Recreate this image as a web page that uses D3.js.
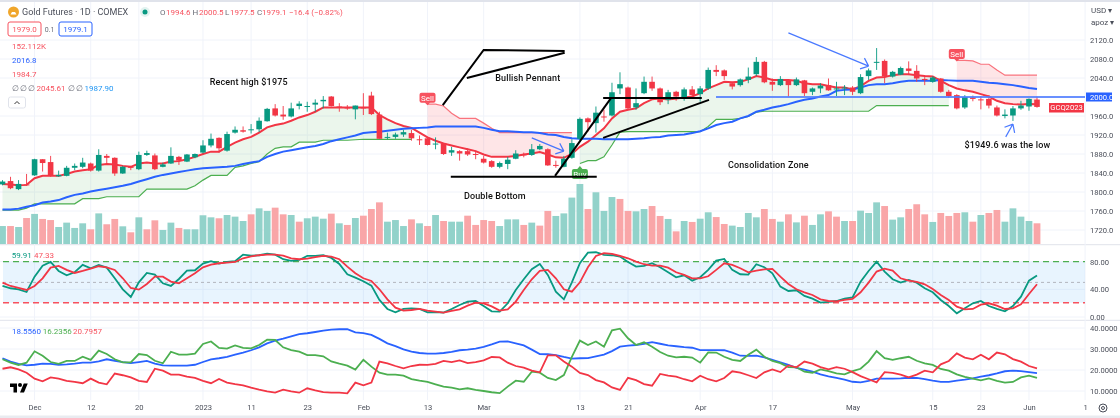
<!DOCTYPE html>
<html>
<head>
<meta charset="utf-8">
<script src="https://cdnjs.cloudflare.com/ajax/libs/d3/7.8.5/d3.min.js"></script>
<style>
  html, body { margin: 0; padding: 0; background: #fff; }
  svg { display: block; filter: blur(0.3px); }
  text { font-family: Roboto, sans-serif; }
  .axis text { font-size: 7.6px; fill: #4a4e59; }
  .axis path { display: none; }
</style>
</head>
<body>
<svg id="chart" width="1120" height="418"></svg>
<script>
const _ = null;

// candles, one per trading day
const opens = [
  1816,1823,1806,1816,1835,1869,1863,1833,1834,1851,
  1853,1860,1845,1876,1872,1839,1853,1848,1878,1877,
  1853,1860,1874,1864,1873,1883,1898,1914,1887,1925,
  1930,1931,1932,1949,1976,1963,1959,1981,1980,1984,
  1991,2001,1980,1978,1974,1978,2003,1963,1914,1916,
  1921,1924,1911,1913,1900,1902,1883,1886,1886,1880,
  1870,1865,1853,1859,1870,1880,1878,1890,1890,1857,
  1853,1872,1912,1955,1945,1959,1961,2018,2020,1978,
  2008,2032,2018,1994,2011,1999,2016,2006,2018,2057,
  2056,2029,2025,2036,2048,2074,2032,2025,2036,2025,
  2035,2011,2018,2025,2017,2019,2020,2008,2044,2072,
  2076,2043,2047,2060,2055,2038,2032,2039,2011,2004,
  1978,1999,1995,1996,1978,1960,1961,1976,1980,1994.6];
const highs = [
  1825,1832,1825,1838,1870,1869,1876,1845,1855,1860,
  1872,1862,1890,1880,1873,1855,1855,1885,1887,1881,
  1862,1894,1876,1880,1881,1909,1923,1915,1927,1938,
  1938,1943,1957,1977,1985,1981,1988,1991,1990,1995,
  2002,2002,1987,1983,1982,2008,2011,1969,1925,1925,
  1931,1931,1919,1914,1915,1902,1895,1888,1892,1887,
  1876,1867,1864,1874,1888,1883,1901,1901,1892,1866,
  1876,1911,1957,1957,1980,1973,2030,2052,2022,2018,
  2043,2043,2020,2015,2013,2020,2023,2023,2062,2067,
  2058,2032,2039,2062,2084,2076,2039,2044,2037,2041,
  2036,2020,2029,2039,2032,2025,2023,2048,2060,2103,
  2079,2055,2064,2075,2067,2046,2044,2040,2015,2006,
  2004,2003,2002,2004,1982,1974,1981,1992,1997,2000.5];
const lows = [
  1814,1806,1804,1813,1834,1843,1832,1832,1833,1846,
  1850,1843,1843,1857,1834,1838,1846,1846,1876,1846,
  1852,1859,1857,1863,1871,1881,1894,1883,1885,1923,
  1925,1923,1926,1948,1959,1952,1957,1974,1969,1969,
  1976,1980,1969,1973,1953,1962,1962,1912,1911,1912,
  1916,1908,1899,1898,1890,1878,1876,1866,1876,1869,
  1860,1851,1850,1848,1869,1873,1876,1888,1855,1851,
  1852,1870,1909,1927,1925,1948,1959,2006,1974,1973,
  2006,2013,1983,1985,1992,1992,1997,1990,2015,2044,
  2036,2016,2022,2029,2044,2029,2013,2023,2001,2023,
  2002,2004,2008,2013,2002,2004,2004,2006,2036,2057,
  2029,2041,2046,2046,2032,2025,2030,2009,1998,1974,
  1975,1991,1974,1976,1959,1955,1949.6,1973,1971,1977.5];
const closes = [
  1822,1808,1817,1814,1869,1861,1834,1836,1851,1855,
  1862,1845,1878,1872,1839,1853,1851,1878,1882,1848,
  1858,1876,1866,1879,1880,1898,1912,1892,1922,1931,
  1927,1932,1950,1975,1961,1959,1976,1986,1981,1988,
  1994,1981,1978,1977,1982,1977,1964,1912,1916,1921,
  1926,1913,1909,1899,1902,1880,1888,1881,1879,1879,
  1862,1853,1861,1868,1881,1877,1890,1897,1856,1855,
  1870,1903,1954,1947,1967,1957,2010,2027,1976,1987,
  2032,2018,1989,2010,2001,2016,2004,2018,2057,2053,
  2044,2022,2037,2043,2074,2031,2026,2038,2025,2037,
  2008,2018,2024,2014,2018,2020,2011,2042,2056,2074,
  2043,2053,2061,2055,2039,2036,2041,2011,2002,1976,
  2000,1996,1994,1982,1961,1963,1976,1982,1996,1979.1];

// price overlays
const ema = [
  1817,1816,1814,1815,1829,1834,1834,1834,1838,1843,
  1846,1848,1857,1859,1858,1855,1853,1860,1862,1860,
  1860,1864,1865,1869,1874,1880,1885,1885,1895,1904,
  1911,1916,1925,1936,1941,1944,1950,1957,1962,1969,
  1978,1978,1978,1978,1978,1978,1978,1962,1953,1945,
  1939,1935,1925,1915,1908,1902,1898,1894,1890,1886,
  1879,1874,1874,1874,1876,1879,1881,1884,1879,1873,
  1872,1880,1895,1906,1920,1934,1955,1969,1973,1976,
  1987,1995,1997,1995,1997,1999,2001,2008,2018,2025,
  2032,2031,2032,2037,2044,2041,2036,2036,2036,2034,
  2029,2027,2027,2023,2020,2020,2016,2023,2034,2041,
  2042,2046,2048,2048,2046,2044,2043,2034,2025,2018,
  2014,2011,2006,2001,1992,1987,1985,1984,1985,1984.7];
const ma = [
  1763,1763,1765,1769,1772,1778,1780,1783,1789,1794,
  1797,1801,1804,1807,1810,1813,1817,1822,1827,1832,
  1836,1839,1842,1845,1848,1850,1851,1852,1853,1855,
  1859,1862,1865,1874,1880,1885,1888,1891,1894,1897,
  1901,1907,1911,1915,1919,1924,1926,1927,1929,1931,
  1933,1934,1935,1936,1938,1938,1938,1938,1938,1938,
  1935,1931,1928,1928,1927,1926,1926,1924,1921,1920,
  1916,1913,1912,1912,1912,1911,1911,1911,1911,1912,
  1913,1915,1916,1919,1920,1921,1924,1928,1934,1941,
  1945,1948,1955,1960,1969,1973,1978,1981,1985,1990,
  1994,1997,2001,2004,2013,2015,2016,2020,2025,2027,
  2027,2029,2032,2034,2034,2034,2034,2036,2035,2034,
  2034,2034,2032,2030,2029,2027,2025,2022,2019,2016.8];
const stopUp = [
  1762,1762,1762,1766,1775,1775,1775,1775,1775,1775,
  1786,1786,1786,1790,1790,1790,1790,1790,1806,1806,
  1806,1806,1806,1806,1813,1825,1835,1835,1835,1852,
  1855,1860,1864,1880,1892,1895,1895,1905,1905,1905,
  1909,1909,1909,1909,1910,1911,1911,1911,1911,1911,
  1911,1911,_,_,_,_,_,_,_,_,
  _,_,_,_,_,_,_,_,_,_,
  _,_,1860,1866,1866,1874,1899,1926,1927,1927,
  1927,1927,1927,1927,1927,1927,1927,1927,1938,1953,
  1953,1953,1955,1959,1968,1970,1970,1970,1970,1970,
  1970,1970,1970,1970,1970,1970,1970,1970,1970,1982,
  1982,1982,1982,1982,1982,1982,1982,1982,1982,_,
  _,_,_,_,_,_,_,_,_,_];
const stopDown = [
  _,_,_,_,_,_,_,_,_,_,
  _,_,_,_,_,_,_,_,_,_,
  _,_,_,_,_,_,_,_,_,_,
  _,_,_,_,_,_,_,_,_,_,
  _,_,_,_,_,_,_,_,_,_,
  _,_,_,1985,1985,1981,1966,1955,1955,1955,
  1945,1934,1925,1925,1925,1925,1925,1925,1925,1925,
  1925,1925,_,_,_,_,_,_,_,_,
  _,_,_,_,_,_,_,_,_,_,
  _,_,_,_,_,_,_,_,_,_,
  _,_,_,_,_,_,_,_,_,_,
  _,_,_,_,_,_,_,_,_,2077,
  2077,2076,2069,2069,2057,2046,2046,2046,2046,2046];

// volume in thousands, and the days drawn as down bars
const volume = [
  132,132,125,191,221,184,176,125,157,118,
  152,108,225,145,184,130,86,196,108,174,
  103,157,118,108,108,211,196,189,213,201,
  169,218,262,243,267,218,213,164,189,201,
  186,223,152,140,191,208,257,306,164,176,
  132,181,152,132,213,169,164,164,208,140,
  176,169,132,181,181,140,157,135,243,206,
  225,341,441,257,380,243,345,331,243,240,
  257,279,206,184,93,169,162,186,233,198,
  147,135,125,228,196,257,184,164,218,159,
  208,140,218,240,201,169,169,245,228,306,
  279,179,196,257,292,218,162,228,206,228,
  233,164,213,228,250,164,262,201,169,152.112];
const volumeDownDays = [1,3,5,6,11,13,14,16,18,19,22,27,31,34,35,37,41,43,45,46,47,
  51,53,55,58,59,60,61,65,67,68,73,77,78,81,82,84,86,89,90,
  95,96,98,100,103,104,106,110,113,114,115,117,118,119,121,123,124,129];

// stochastic
const stochK = [
  44.8,41.5,40.0,36.1,58.3,74.2,79.5,66.5,60.2,64.6,
  75.2,70.4,75.2,71.3,55.9,40.0,28.9,50.1,63.6,61.2,
  48.7,44.8,54.9,67.0,67.5,77.1,80.5,77.1,79.5,80.5,
  90.1,88.7,89.2,91.6,90.1,83.4,81.0,82.4,88.2,88.2,
  89.2,85.3,76.6,61.7,56.9,51.6,45.3,24.6,11.6,6.7,
  11.6,12.5,11.6,6.7,7.2,6.3,11.6,17.4,22.2,23.1,
  15.9,8.2,7.7,19.8,39.0,54.5,68.9,76.6,60.7,36.6,
  25.5,50.1,77.6,93.0,93.5,89.7,89.2,87.2,79.5,72.8,
  73.7,77.6,71.8,64.6,57.4,60.2,52.5,57.4,68.0,81.5,
  83.9,68.0,61.7,61.2,76.2,71.8,63.1,43.9,37.6,38.6,
  30.4,26.5,20.7,21.7,23.1,26.5,28.4,51.1,66.5,80.0,
  65.6,54.5,49.6,53.5,49.6,41.5,35.7,24.6,15.9,5.3,
  12.5,19.8,23.1,15.9,11.6,8.2,15.9,29.4,52.5,59.91];
const stochD = [
  49.6,44.8,41.9,39.0,44.8,55.9,71.3,73.7,68.0,63.6,
  66.5,69.9,73.3,71.8,68.0,55.9,41.9,39.5,47.7,58.3,
  58.3,51.1,48.7,55.9,63.1,71.8,75.7,77.6,78.6,79.5,
  84.8,87.7,89.2,90.1,90.1,88.7,84.8,83.4,84.3,86.3,
  88.2,87.2,83.4,72.8,63.1,55.9,52.1,40.0,25.5,13.5,
  9.2,10.1,11.6,9.2,7.7,6.3,8.7,11.1,16.4,20.7,
  19.8,15.4,9.2,11.1,22.2,39.0,54.5,66.5,68.0,55.9,
  40.0,36.6,50.1,71.8,88.2,92.1,91.1,88.2,84.8,80.0,
  76.2,74.2,74.2,71.3,64.6,60.7,55.9,55.9,58.8,68.0,
  77.6,75.2,70.4,64.6,67.0,68.9,69.4,58.3,47.7,40.0,
  35.7,31.8,25.5,23.1,22.7,24.6,26.0,35.7,49.6,65.6,
  69.9,67.0,55.9,52.5,50.6,47.2,40.5,31.8,24.6,14.9,
  11.1,11.6,17.8,19.8,16.4,11.6,12.5,18.3,33.3,47.33];

// directional movement
const adx = [
  25.6,24.0,22.9,22.2,22.5,23.0,22.9,22.5,22.7,23.0,
  23.5,23.5,24.1,25.1,24.4,23.8,23.3,23.8,24.3,23.0,
  22.2,22.1,22.1,22.1,22.5,23.8,25.1,25.6,26.3,27.3,
  28.3,29.4,30.8,32.7,34.0,34.9,36.0,37.1,37.5,38.1,
  38.7,39.2,39.4,39.5,37.9,37.6,36.7,34.8,32.7,31.4,
  29.8,28.7,28.1,27.8,27.8,28.1,28.6,29.4,29.7,30.2,
  31.0,32.2,33.5,33.6,32.7,31.7,29.7,27.6,27.5,27.1,
  26.2,25.4,25.6,25.7,26.5,27.3,29.0,31.1,31.6,31.9,
  32.5,33.3,32.5,31.7,31.3,30.9,30.6,29.5,29.5,29.5,
  29.4,28.3,26.8,26.7,26.8,26.0,24.8,23.6,22.4,21.0,
  20.2,19.2,17.9,17.0,16.2,15.4,14.4,14.1,14.8,15.9,
  15.9,15.9,16.0,16.3,16.2,15.7,14.9,14.3,14.3,14.9,
  15.4,16.0,16.8,17.5,18.4,19.4,19.7,19.5,19.0,18.556];
const plusDI = [
  25.1,23.5,22.4,23.5,28.9,26.8,23.8,22.9,24.3,24.3,
  26.3,24.8,29.2,27.6,25.1,23.6,23.6,27.6,27.1,24.4,
  23.2,28.7,27.3,27.3,27.8,32.4,33.6,30.5,30.2,31.7,
  30.5,30.3,31.9,34.4,34.3,30.8,29.5,28.7,27.1,27.1,
  26.5,24.1,23.0,22.1,20.2,24.9,21.6,18.7,17.8,17.8,
  17.3,15.7,14.9,14.3,13.2,12.1,11.6,10.8,11.3,10.5,
  10.0,9.4,9.0,12.1,14.9,14.4,19.2,18.7,16.2,15.2,
  17.6,26.3,34.0,31.9,33.6,31.1,38.9,39.7,35.1,31.9,
  33.2,31.1,28.6,26.8,26.0,26.3,25.9,23.5,28.4,28.3,
  26.3,24.8,24.3,27.3,29.7,26.3,24.3,23.3,21.4,21.3,
  19.2,18.7,20.3,19.5,18.4,17.9,19.5,20.6,24.0,29.0,
  25.6,24.8,25.6,26.3,24.4,23.2,22.4,20.5,19.7,17.9,
  16.7,15.9,15.1,16.0,14.8,14.0,14.3,16.5,17.3,16.2356];
const minusDI = [
  20.6,21.3,20.3,18.7,15.9,14.6,16.5,15.9,14.8,14.3,
  13.7,15.9,14.0,13.2,18.3,17.5,16.5,14.8,14.3,20.6,
  19.7,17.8,17.8,16.8,16.2,14.8,13.7,15.7,14.0,13.3,
  12.7,11.6,10.6,9.8,9.2,10.6,9.8,9.2,11.3,10.3,
  9.5,9.2,9.2,8.9,14.0,12.7,14.0,24.0,23.2,21.9,
  20.8,21.9,22.5,22.4,22.9,24.3,23.8,24.6,23.3,23.8,
  24.6,26.2,26.0,23.5,21.9,21.1,19.7,18.9,27.0,27.0,
  24.1,21.6,18.6,17.6,15.2,14.1,11.7,10.5,16.3,15.2,
  13.3,12.5,18.1,17.3,16.8,15.6,14.6,17.3,15.6,14.6,
  16.2,19.4,18.7,17.5,16.2,18.9,20.3,19.0,22.2,21.3,
  24.0,23.0,21.4,20.3,21.4,20.6,19.0,17.1,15.6,14.1,
  19.0,18.6,17.8,16.5,17.8,19.7,18.9,22.7,24.3,27.9,
  25.9,25.1,27.3,25.1,28.3,27.5,25.2,24.0,21.9,20.7957];

// axes
const priceTicks = [2120,2080,2040,1960,1920,1880,1840,1800,1760,1720];
const stochTicks = [80,40,0];
const dmiTicks = [40,30,20,10];
const timeTickDays = [4,11,17,25,31,38,45,53,60,72,78,87,96,106,116,122,128,135];
const timeTickLabels = ['Dec','12','20','2023','11','23','Feb','13','Mar','13','21','Apr','17','May','15','23','Jun','1'];

// drawn on the chart, as [day, price]
const blackLines = [
  [[54.9,1983],[60,2099],[70.1,2097]],
  [[57.9,2040],[70.1,2093]],
  [[55.9,1832],[74.1,1832]],
  [[68.9,1834],[75.9,1998]],
  [[74.9,1998],[87.2,1998]],
  [[74.9,1914],[88.1,1994]]];
const blueArrows = [
  [[66,1914],[70,1886]],
  [[98,2135],[108,2065]],
  [[125.1,1916],[126,1943]]];
const notes = [
  ['Recent high $1975',30.7,2025],
  ['Bullish Pennant',65.5,2034],
  ['Double Bottom',61.4,1785],
  ['Consolidation Zone',95.5,1851],
  ['$1949.6 was the low',125.3,1893]];

const green = '#089981', red = '#f23645', blue = '#2962ff', stopGreen = '#4caf50', stopRed = '#f7525f';
const days = d3.range(closes.length);
const svg = d3.select('#chart');
const chartRight = 1085;

const x = d3.scaleLinear().domain([0, 129]).range([2.5, 1037]);
const yPrice = d3.scaleLinear().domain([1720, 2120]).range([230, 40]);
const yVolume = d3.scaleLinear().domain([0, 100]).range([244, 230.39]);
const yStoch = d3.scaleLinear().domain([0, 80]).range([317, 261.6]);
const yDmi = d3.scaleLinear().domain([10, 40]).range([391, 328]);

// frame and grid
svg.append('rect').attr('width', 1120).attr('height', 2).attr('fill', '#e0e3eb');
svg.append('rect').attr('y', 415.5).attr('width', 1120).attr('height', 2.5).attr('fill', '#e9ebf0');
[244.7, 320.3].forEach(py => svg.append('line').attr('x1', 0).attr('x2', 1120).attr('y1', py).attr('y2', py).attr('stroke', '#e0e3eb'));

const grid = svg.append('g').attr('stroke', '#f0f3fa');
timeTickDays.forEach(d => grid.append('line').attr('x1', x(d)).attr('x2', x(d)).attr('y1', 2).attr('y2', 400));
[[priceTicks, yPrice], [stochTicks, yStoch], [dmiTicks, yDmi]].forEach(([ticks, scale]) => {
  ticks.forEach(t => grid.append('line').attr('x1', 0).attr('x2', chartRight).attr('y1', scale(t)).attr('y2', scale(t)));
});

// volume
const downSet = new Set(volumeDownDays);
svg.append('g').selectAll('rect').data(days).enter().append('rect')
  .attr('x', d => x(d) - 3.4)
  .attr('width', 6.8)
  .attr('y', d => yVolume(volume[d]))
  .attr('height', d => yVolume(0) - yVolume(volume[d]))
  .attr('fill', d => downSet.has(d) ? '#f9a6a8' : '#92d2ca');

// fills between the stop and the ema
const bandBetween = stops => d3.area()
  .defined(d => stops[d] !== null)
  .x(d => x(d))
  .y0(d => yPrice(stops[d]))
  .y1(d => yPrice(ema[d]));
svg.append('path').attr('d', bandBetween(stopUp)(days)).attr('fill', stopGreen).attr('opacity', 0.11);
svg.append('path').attr('d', bandBetween(stopDown)(days)).attr('fill', stopRed).attr('opacity', 0.15);

const priceLine = values => d3.line().defined(d => values[d] !== null).x(d => x(d)).y(d => yPrice(values[d]));
svg.append('path').attr('d', priceLine(stopUp)(days)).attr('fill', 'none').attr('stroke', stopGreen).attr('stroke-width', 1.2);
svg.append('path').attr('d', priceLine(stopDown)(days)).attr('fill', 'none').attr('stroke', stopRed).attr('stroke-opacity', 0.8).attr('stroke-width', 1.2);
svg.append('path').attr('d', priceLine(ema)(days)).attr('fill', 'none').attr('stroke', red).attr('stroke-width', 2);
svg.append('path').attr('d', priceLine(ma)(days)).attr('fill', 'none').attr('stroke', blue).attr('stroke-width', 2);

// candles
const candle = svg.append('g').selectAll('g').data(days).enter().append('g');
const candleColor = d => closes[d] >= opens[d] ? green : red;
candle.append('line')
  .attr('x1', d => x(d)).attr('x2', d => x(d))
  .attr('y1', d => yPrice(highs[d])).attr('y2', d => yPrice(lows[d]))
  .attr('stroke', candleColor).attr('stroke-width', 0.9);
candle.append('rect')
  .attr('x', d => x(d) - 2.8)
  .attr('width', 5.6)
  .attr('y', d => yPrice(Math.max(opens[d], closes[d])))
  .attr('height', d => Math.max(1, Math.abs(yPrice(opens[d]) - yPrice(closes[d]))))
  .attr('fill', candleColor);

// sell / buy tags
const tag = (day, stop, label, color, below) => {
  const cx = x(day), tip = yPrice(stop);
  const cy = below ? tip + 10.5 : tip - 6.4;
  svg.append('path')
    .attr('d', below
      ? `M${cx - 3},${cy - 4.5}L${cx},${cy - 8}L${cx + 3},${cy - 4.5}Z`
      : `M${cx - 3},${cy + 4.5}L${cx},${cy + 7.5}L${cx + 3},${cy + 4.5}Z`)
    .attr('fill', color);
  svg.append('rect').attr('x', cx - 8).attr('y', cy - 5).attr('width', 16).attr('height', 10).attr('rx', 2).attr('fill', color);
  svg.append('text').attr('x', cx).attr('y', cy + 2.8).attr('text-anchor', 'middle')
    .attr('font-size', 8).attr('fill', '#fff').text(label);
};
tag(53, stopDown[53], 'Sell', stopRed, false);
tag(119, stopDown[119], 'Sell', stopRed, false);
tag(72, stopUp[72], 'Buy', stopGreen, true);

// horizontal line at 2000
svg.append('line').attr('x1', 716).attr('x2', chartRight)
  .attr('y1', yPrice(2000)).attr('y2', yPrice(2000))
  .attr('stroke', '#4f7dff').attr('stroke-opacity', 0.85).attr('stroke-width', 2);

// hand-drawn lines
const drawn = d3.line().x(p => x(p[0])).y(p => yPrice(p[1]));
blackLines.forEach(pts => svg.append('path').attr('d', drawn(pts)).attr('fill', 'none').attr('stroke', '#000').attr('stroke-width', 2));
blueArrows.forEach(pts => {
  const [x0, y0, x1, y1] = [x(pts[0][0]), yPrice(pts[0][1]), x(pts[1][0]), yPrice(pts[1][1])];
  const a = Math.atan2(y1 - y0, x1 - x0);
  const head = [a - 0.7, a + 0.7].map(h => [x1 - 9 * Math.cos(h), y1 - 9 * Math.sin(h)]);
  const path = d3.path();
  path.moveTo(x0, y0); path.lineTo(x1, y1);
  head.forEach(h => { path.moveTo(h[0], h[1]); path.lineTo(x1, y1); });
  svg.append('path').attr('d', path.toString()).attr('fill', 'none').attr('stroke', blue).attr('stroke-opacity', 0.85).attr('stroke-width', 1.2);
});
notes.forEach(([label, day, price]) => {
  svg.append('text').attr('x', x(day)).attr('y', yPrice(price)).attr('text-anchor', 'middle')
    .attr('font-size', 9).attr('font-weight', 500).attr('letter-spacing', 0.15).attr('fill', '#111').text(label);
});

// stochastic pane
svg.append('rect').attr('x', 3).attr('width', chartRight - 3)
  .attr('y', yStoch(80)).attr('height', yStoch(20.5) - yStoch(80))
  .attr('fill', '#2196f3').attr('opacity', 0.1);
[[80, stopGreen, '6,4', 1.3], [50, '#b2b5be', '3,3', 1], [20.5, stopRed, '6,4', 1.5]].forEach(([v, color, dash, w]) => {
  svg.append('line').attr('x1', 3).attr('x2', chartRight)
    .attr('y1', yStoch(v)).attr('y2', yStoch(v))
    .attr('stroke', color).attr('stroke-dasharray', dash).attr('stroke-width', w);
});
const paneLine = (values, scale, color) => {
  const line = d3.line().x(d => x(d)).y(d => scale(values[d]));
  svg.append('path').attr('d', line(days)).attr('fill', 'none').attr('stroke', color).attr('stroke-width', 1.8);
};
paneLine(stochK, yStoch, green);
paneLine(stochD, yStoch, red);

// dmi pane
paneLine(adx, yDmi, blue);
paneLine(plusDI, yDmi, stopGreen);
paneLine(minusDI, yDmi, red);

// logo in the lower pane
const logo = svg.append('g').attr('transform', 'translate(10,381.5) scale(0.5)').attr('fill', '#000');
logo.append('path').attr('d', 'M14 22H7V11H0V4h14v18zM28 22h-8l7.5-18h8L28 22z');
logo.append('circle').attr('cx', 20).attr('cy', 7).attr('r', 4);

// axes
const axisAt = (ticks, scale, format) => {
  svg.append('g').attr('class', 'axis').attr('transform', `translate(${chartRight},0)`)
    .call(d3.axisRight(scale).tickValues(ticks).tickSize(0).tickPadding(5).tickFormat(format));
};
axisAt(priceTicks, yPrice, d3.format('.1f'));
axisAt(stochTicks, yStoch, d3.format('.2f'));
axisAt(dmiTicks, yDmi, d3.format('.4f'));

svg.append('g').attr('class', 'axis').attr('transform', 'translate(0,399)')
  .call(d3.axisBottom(x).tickValues(timeTickDays).tickSize(0).tickPadding(6)
    .tickFormat((d, i) => timeTickLabels[i]));

// last-value tags on the price scale
svg.append('rect').attr('x', 1086).attr('y', yPrice(2000) - 4.5).attr('width', 26).attr('height', 9).attr('fill', blue);
svg.append('text').attr('x', 1090).attr('y', yPrice(2000) + 2.8).attr('font-size', 7.6).attr('fill', '#fff').text('2000.0');
svg.append('rect').attr('x', 1049).attr('y', 103).attr('width', 35).attr('height', 9.5).attr('fill', red);
svg.append('text').attr('x', 1066.5).attr('y', 110.4).attr('text-anchor', 'middle').attr('font-size', 7.6).attr('fill', '#fff').text('GCQ2023');

// currency menu and settings
const put = (px, py, str, color, size, anchor) => svg.append('text').attr('x', px).attr('y', py)
  .attr('font-size', size || 8).attr('fill', color).attr('text-anchor', anchor || 'start').text(str);
put(1091, 13, 'USD ▾', '#4a4e59');
put(1091, 24.5, 'apoz ▾', '#4a4e59');
svg.append('circle').attr('cx', 1103).attr('cy', 408).attr('r', 4).attr('fill', 'none').attr('stroke', '#4a4e59');
svg.append('circle').attr('cx', 1103).attr('cy', 408).attr('r', 1.5).attr('fill', 'none').attr('stroke', '#4a4e59');

// header legend
svg.append('circle').attr('cx', 13.5).attr('cy', 12).attr('r', 5.5).attr('fill', '#f0a62b');
svg.append('path').attr('d', 'M10.5,14.5h6l-1.5,-2.5h-3z').attr('fill', '#fff');
put(22, 15.2, 'Gold Futures · 1D · COMEX', '#4a4e59', 9);
svg.append('circle').attr('cx', 145).attr('cy', 12).attr('r', 5).attr('fill', '#e3f3f0');
svg.append('circle').attr('cx', 145).attr('cy', 12).attr('r', 2.5).attr('fill', green);
const pink = '#f7525f';
[[160, 'O', '#6a6d78'], [166, '1994.6', pink], [192.5, 'H', '#6a6d78'], [199, '2000.5', pink],
 [225, 'L', '#6a6d78'], [230, '1977.5', pink], [257, 'C', '#6a6d78'], [262, '1979.1', pink],
 [289, '−16.4 (−0.82%)', pink]].forEach(([px, str, color]) => put(px, 15, str, color));

svg.append('rect').attr('x', 8).attr('y', 22).attr('width', 33).attr('height', 14).attr('rx', 2).attr('fill', '#fff').attr('stroke', pink);
put(24.5, 32, '1979.0', pink, 8, 'middle');
put(49.5, 31.6, '0.1', '#6a6d78', 7, 'middle');
svg.append('rect').attr('x', 59).attr('y', 22).attr('width', 33).attr('height', 14).attr('rx', 2).attr('fill', '#fff').attr('stroke', blue);
put(75.5, 32, '1979.1', blue, 8, 'middle');
put(12, 48.5, '152.112K', pink);
put(12, 63, '2016.8', blue);
put(12, 77, '1984.7', pink);
[12, 20, 28, 68, 76].forEach(px => put(px, 91, '∅', '#6a6d78'));
put(36.5, 91, '2045.61', pink);
put(84.5, 91, '1987.90', '#2196f3');
svg.append('rect').attr('x', 8.5).attr('y', 97).attr('width', 17).attr('height', 11).attr('rx', 2).attr('fill', '#fff').attr('stroke', '#e0e3eb');
svg.append('path').attr('d', 'M14.5,104L17,101.5L19.5,104').attr('fill', 'none').attr('stroke', '#333');

// pane legends
put(11.7, 257.5, '59.91', green);
put(34, 257.5, '47.33', pink);
put(12, 333.5, '18.5560', blue);
put(42.7, 333.5, '16.2356', stopGreen);
put(73, 333.5, '20.7957', pink);
</script>
</body>
</html>
